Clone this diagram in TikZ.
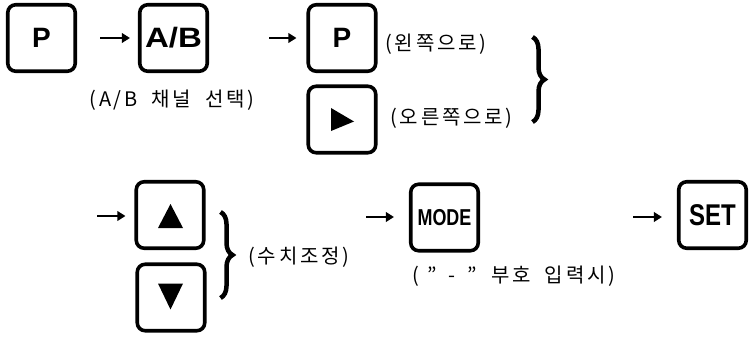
\documentclass[tikz,border=0pt]{standalone}
\usepackage{fontspec}
\setmainfont{Liberation Sans}
\newfontfamily\kr[LetterSpace=14]{Noto Sans CJK KR}
\usetikzlibrary{arrows.meta,decorations.pathreplacing}
\newcommand{\wsp}{\hspace{14pt}}
\begin{document}
\begin{tikzpicture}[x=1pt,y=-1pt,
  key/.style={draw,line width=3.6pt,rounded corners=8pt,minimum width=67.5pt,minimum height=66.5pt,inner sep=0pt,font=\bfseries\fontsize{28}{30}\selectfont},
  arr/.style={line width=1.9pt,-{Triangle[length=8pt,width=9.5pt]}},
  captxt/.style={font=\kr\fontsize{20}{22}\selectfont,inner sep=0pt},
  brc/.style={decorate,decoration={brace,amplitude=12pt},line width=4.5pt}]
\useasboundingbox (0,0) rectangle (753,337);
% keys
\node[key] (p1) at (41.5,38) {P};
\node[key] (ab) at (173.5,38) {\scalebox{1.18}[1]{A/B}};
\node[key] (p2) at (342,38) {P};
\node[key] (rt) at (342,119.5) {};
\node[key] (up) at (170,215) {};
\node[key] (dn) at (171,297.5) {};
\node[key] (mode) at (444.5,217.5) {\fontsize{23}{25}\selectfont\scalebox{0.78}[1]{MODE}};
\node[key] (set) at (712.5,215) {\fontsize{30}{32}\selectfont\scalebox{0.8}[1]{SET}};
% triangles
\fill ([shift={(-11,-11.5)}]rt.center) -- ([shift={(-11,11.5)}]rt.center) -- ([shift={(12,2)}]rt.center) -- cycle;
\fill ([shift={(-12,13)}]up.center) -- ([shift={(13,13)}]up.center) -- ([shift={(0.5,-11)}]up.center) -- cycle;
\fill ([shift={(-13,-14)}]dn.center) -- ([shift={(12,-14)}]dn.center) -- ([shift={(-0.5,12)}]dn.center) -- cycle;
% arrows
\coordinate (a3) at (97,216);
\coordinate (a4) at (366,217);
\coordinate (a5) at (633,217);
\coordinate (s5) at ([xshift=-15pt]set.west);
\draw[arr] ([xshift=23pt]p1.east) -- ([xshift=-8pt]ab.west);
\draw[arr] ([xshift=60pt]ab.east) -- ([xshift=-10pt]p2.west);
\draw[arr] (a3) -- ([xshift=-9pt]up.west |- a3);
\draw[arr] (a4) -- ([xshift=-15pt]mode.west |- a4);
\draw[arr] (a5) -- (a5 -| s5);
% braces
\draw[brc] (532.5,37) -- (532.5,122);
\draw[brc] (220.5,212) -- (220.5,298);
% captions
\node[captxt] (c1) at (172,100) {(A/B\wsp 채널\wsp 선택)};
\node[captxt] (c2) at (436,44) {(왼쪽으로)};
\node[captxt] (c3) at (451.5,118) {(오른쪽으로)};
\node[captxt] (c4) at (299,257) {(수치조정)};
\node[captxt] (c5) at (514,276) {(\hspace{8pt}”\hspace{12pt}-\hspace{12pt}”\wsp 부호\wsp 입력시)};
\end{tikzpicture}
\end{document}
